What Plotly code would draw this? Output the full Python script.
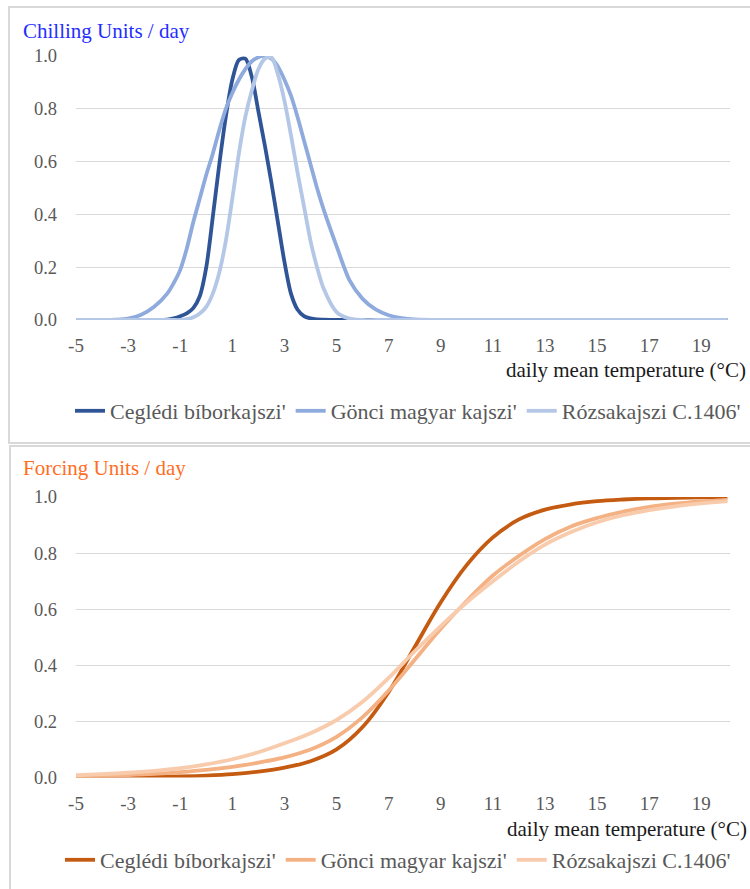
import plotly.graph_objects as go

# ---------------- data ----------------
chill_temp = [-5, -4, -3.5, -3, -2.5, -2, -1.5,
              -1.25, -1, -0.75, -0.5, -0.25, 0, 0.25, 0.5, 0.75, 1, 1.25, 1.5, 1.75, 2, 2.25, 2.5, 2.75,
              3, 3.25, 3.5, 3.75, 4, 4.25, 4.5,
              5, 5.5, 6, 6.5, 7, 7.5, 8, 9, 10, 12, 14, 16, 18, 20]

chill_cegledi = [0, 0, 0, 0, 0, 0, 0.001,
                 0.006, 0.014, 0.025, 0.045, 0.09, 0.2, 0.39, 0.59, 0.77, 0.91, 0.985, 0.99, 0.92, 0.79, 0.66, 0.52, 0.37,
                 0.22, 0.1, 0.04, 0.015, 0.006, 0.002, 0.001,
                 0, 0, 0, 0, 0, 0, 0, 0, 0, 0, 0, 0, 0, 0]
chill_gonci = [0, 0, 0.001, 0.005, 0.02, 0.05, 0.1,
               0.14, 0.19, 0.27, 0.37, 0.46, 0.55, 0.63, 0.72, 0.8, 0.86, 0.91, 0.95, 0.98, 0.995, 1.0, 0.99, 0.96,
               0.91, 0.85, 0.77, 0.68, 0.59, 0.5, 0.42,
               0.28, 0.15, 0.08, 0.04, 0.018, 0.007, 0.002, 0, 0, 0, 0, 0, 0, 0]
chill_rozsa = [0, 0, 0, 0, 0, 0, 0,
               0, 0, 0.003, 0.01, 0.025, 0.05, 0.1, 0.18, 0.3, 0.46, 0.63, 0.77, 0.87, 0.95, 0.99, 0.995, 0.93,
               0.83, 0.7, 0.56, 0.43, 0.3, 0.2, 0.12,
               0.03, 0.005, 0, 0, 0, 0, 0, 0, 0, 0, 0, 0, 0, 0]

force_temp = [-5, -4, -3, -2, -1, 0, 1, 2, 3, 4, 5, 6, 7, 8, 9, 10, 11, 12, 13, 14, 15, 16, 17, 18, 19, 20]
force_cegledi = [0.0, 0.0005, 0.001, 0.002, 0.004, 0.007, 0.012, 0.021, 0.035, 0.058, 0.1, 0.18, 0.305, 0.465,
                 0.625, 0.758, 0.856, 0.92, 0.955, 0.974, 0.985, 0.991, 0.995, 0.997, 0.999, 1.0]
force_gonci = [0.004, 0.006, 0.009, 0.013, 0.019, 0.027, 0.038, 0.053, 0.072, 0.1, 0.145, 0.215, 0.31, 0.42,
               0.53, 0.63, 0.72, 0.79, 0.85, 0.895, 0.925, 0.948, 0.965, 0.976, 0.984, 0.99]
force_rozsa = [0.008, 0.012, 0.017, 0.024, 0.033, 0.047, 0.065, 0.09, 0.122, 0.158, 0.205, 0.27, 0.355, 0.45,
               0.54, 0.625, 0.7, 0.77, 0.83, 0.875, 0.91, 0.935, 0.953, 0.967, 0.977, 0.985]

series_names = ["Ceglédi bíborkajszi'", "Gönci magyar kajszi'", "Rózsakajszi C.1406'"]
x_tickvals = [-5, -3, -1, 1, 3, 5, 7, 9, 11, 13, 15, 17, 19]
x_ticktext = ["-5", "-3", "-1", "1", "3", "5", "7", "9", "11", "13", "15", "17", "19"]
y_tickvals = [0, 0.2, 0.4, 0.6, 0.8, 1.0]
y_ticktext = ["0.0", "0.2", "0.4", "0.6", "0.8", "1.0"]

blue_colors = ["#2F5597", "#8FAADC", "#B4C7E7"]
orange_colors = ["#C55A11", "#F4B183", "#F8CBAD"]

# ---------------- figure ----------------
W, H = 750, 889
SERIF = "Liberation Serif, Times New Roman, DejaVu Serif, serif"
GRAY = "#595959"
GRID = "#D9D9D9"


def px_x(p):
    return p / W


def px_y(p):
    return 1 - p / H


fig = go.Figure()

for name, vals, col in zip(series_names, [chill_cegledi, chill_gonci, chill_rozsa], blue_colors):
    fig.add_trace(go.Scatter(x=chill_temp, y=vals, mode="lines", name=name,
                             line=dict(color=col, width=3.8, shape="spline", smoothing=0.8),
                             cliponaxis=False, xaxis="x", yaxis="y", legend="legend"))

for name, vals, col in zip(series_names, [force_cegledi, force_gonci, force_rozsa], orange_colors):
    fig.add_trace(go.Scatter(x=force_temp, y=vals, mode="lines", name=name,
                             line=dict(color=col, width=3.8, shape="spline", smoothing=1.0),
                             cliponaxis=False, xaxis="x2", yaxis="y2", legend="legend2"))

xdom = [px_x(76), px_x(730)]
common_x = dict(range=[-5, 20.1], tickmode="array", tickvals=x_tickvals, ticktext=x_ticktext,
                showgrid=False, zeroline=False, showline=False, ticks="", ticklabelstandoff=12,
                tickfont=dict(family=SERIF, size=19, color=GRAY), domain=xdom, fixedrange=True,
                automargin=False)
common_y = dict(range=[0, 1], tickmode="array", tickvals=y_tickvals, ticktext=y_ticktext,
                showgrid=True, gridcolor=GRID, gridwidth=1.2, zeroline=False, showline=False,
                ticks="", ticklabelstandoff=18, automargin=False,
                tickfont=dict(family=SERIF, size=18.5, color=GRAY), fixedrange=True)

legend_common = dict(orientation="h", xanchor="left", yanchor="middle",
                     font=dict(family=SERIF, size=22, color=GRAY),
                     bgcolor="rgba(0,0,0,0)", itemwidth=30, tracegroupgap=0)

fig.update_layout(
    width=W, height=H,
    margin=dict(l=0, r=0, t=0, b=0, pad=0, autoexpand=False),
    paper_bgcolor="white", plot_bgcolor="white",
    showlegend=True,
    xaxis=dict(**common_x, anchor="y"),
    yaxis=dict(**common_y, domain=[px_y(320), px_y(56)], anchor="x"),
    xaxis2=dict(**common_x, anchor="y2"),
    yaxis2=dict(**common_y, domain=[px_y(777.5), px_y(497)], anchor="x2"),
    legend=dict(**legend_common, x=px_x(70), y=px_y(411)),
    legend2=dict(**legend_common, x=px_x(60), y=px_y(860)),
    shapes=[
        dict(type="rect", xref="paper", yref="paper", x0=px_x(9), x1=px_x(770),
             y0=px_y(443), y1=px_y(7), line=dict(color=GRID, width=2), layer="below"),
        dict(type="rect", xref="paper", yref="paper", x0=px_x(10), x1=px_x(770),
             y0=px_y(905), y1=px_y(446), line=dict(color=GRID, width=2), layer="below"),
    ],
    annotations=[
        dict(text="Chilling Units / day", xref="paper", yref="paper", x=px_x(21), y=px_y(31),
             xanchor="left", yanchor="middle", showarrow=False,
             font=dict(family=SERIF, size=21, color="#1F2EFF")),
        dict(text="Forcing Units / day", xref="paper", yref="paper", x=px_x(21), y=px_y(468),
             xanchor="left", yanchor="middle", showarrow=False,
             font=dict(family=SERIF, size=21, color="#FF6E1F")),
        dict(text="daily mean temperature (°C)", xref="paper", yref="paper", x=px_x(748), y=px_y(370),
             xanchor="right", yanchor="middle", showarrow=False,
             font=dict(family=SERIF, size=21, color="#1A1A1A")),
        dict(text="daily mean temperature (°C)", xref="paper", yref="paper", x=px_x(749), y=px_y(829),
             xanchor="right", yanchor="middle", showarrow=False,
             font=dict(family=SERIF, size=21, color="#1A1A1A")),
    ],
)

fig.write_html("out.html", config={"displayModeBar": False},
               post_script="document.body.style.margin='0';")
